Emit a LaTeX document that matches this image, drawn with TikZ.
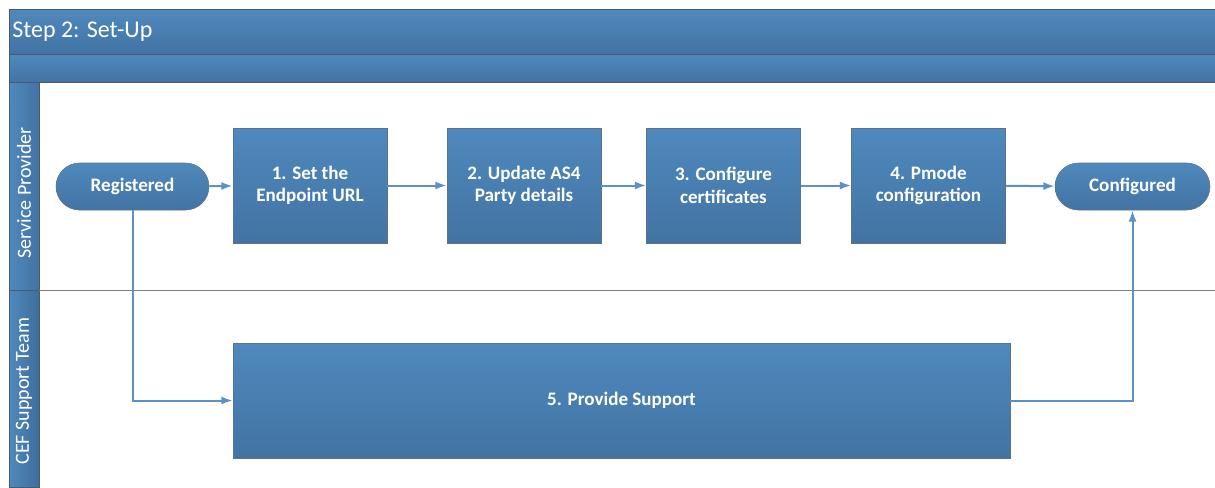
\documentclass[tikz,border=0pt]{standalone}
\usepackage{fontspec}
\setmainfont{Carlito}
\usetikzlibrary{arrows.meta}
\definecolor{topblue}{HTML}{4F89BD}
\definecolor{botblue}{HTML}{4273A3}
\definecolor{edgeblue}{HTML}{3F6B95}
\definecolor{linkblue}{HTML}{5B90C8}
\definecolor{bandedge}{HTML}{4A5A6A}
\begin{document}
\def\px{0.75pt}
\begin{tikzpicture}[x=0.75pt,y=-0.75pt,
  procbox/.style={rectangle, draw=edgeblue!60!gray, line width=0.4pt, top color=topblue, bottom color=botblue,
    text=white, font=\fontsize{14.3pt}{16.8pt}\selectfont\bfseries, align=center, inner sep=0pt},
  termbox/.style={procbox, rounded corners=23.5*\px},
  link/.style={draw=linkblue, line width=1.5pt, -{Latex[length=8.5pt,width=6pt]}},
  band/.style={draw=bandedge, line width=0.6pt, top color=topblue, bottom color=botblue},
  lanelabel/.style={text=white, font=\fontsize{15pt}{17pt}\selectfont, rotate=90}
]
\useasboundingbox (0,0) rectangle (1215,487);
% header bands
\path[band] (9,9) rectangle (1215,54);
\path[band] (9,54) rectangle (1215,82);
\node[anchor=west, text=white, font=\fontsize{18pt}{21pt}\selectfont, inner sep=0pt] (title) at (12,32) {Step 2: Set-Up};
% lane label column
\path[draw=bandedge, line width=0.6pt, left color=topblue, right color=botblue] (9,82) rectangle (39,290);
\path[draw=bandedge, line width=0.6pt, left color=topblue, right color=botblue!95!black] (9,290) rectangle (39,487);
\node[lanelabel] (lane1) at (24,193) {Service Provider};
\node[lanelabel] (lane2) at (24,391) {CEF Support Team};
% lane divider
\draw[gray, line width=0.7pt] (39,290) -- (1215,290);
% nodes
\node[termbox, minimum width=153*\px, minimum height=47*\px] (reg) at (132.5,186.5) {Registered};
\node[procbox, minimum width=154*\px, minimum height=115*\px] (b1) at (310,185.5) {1. Set the\\Endpoint URL};
\node[procbox, minimum width=154*\px, minimum height=115*\px] (b2) at (524,185.5) {2. Update AS4\\Party details};
\node[procbox, minimum width=154*\px, minimum height=115*\px] (b3) at (723.5,185.5) {3. Configure\\certificates};
\node[procbox, minimum width=154*\px, minimum height=115*\px] (b4) at (928.5,185.5) {4. Pmode\\configuration};
\node[termbox, minimum width=155*\px, minimum height=47*\px] (conf) at (1132.5,186.5) {Configured};
\node[procbox, minimum width=777*\px, minimum height=115*\px] (b5) at (621.5,400.5) {5. Provide Support};
% connectors
\draw[link] (reg) -- (b1);
\draw[link] (b1) -- (b2);
\draw[link] (b2) -- (b3);
\draw[link] (b3) -- (b4);
\draw[link] (b4) -- (conf);
\draw[link] (reg.south) |- (b5.west);
\draw[link] (b5.east) -| (conf.south);
\end{tikzpicture}
\end{document}
